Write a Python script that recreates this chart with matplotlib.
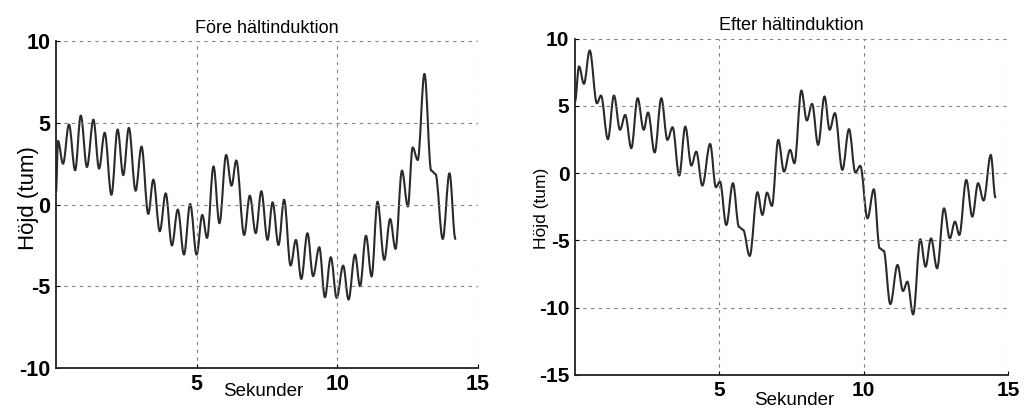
import numpy as np
import matplotlib.pyplot as plt
from matplotlib.path import Path
from matplotlib.patches import PathPatch

plt.rcParams['font.family'] = ['Liberation Sans', 'DejaVu Sans']
plt.rcParams['axes.unicode_minus'] = False

# Före hältinduktion: turning points (seconds, inches)
fore_t = [0.0, 0.07, 0.25, 0.46, 0.68, 0.88, 1.10, 1.33, 1.53, 1.73, 1.97, 2.19, 2.39,
          2.59, 2.83, 3.04, 3.28, 3.46, 3.69, 3.90, 4.12, 4.33, 4.55, 4.77, 5.00, 5.20,
          5.37, 5.60, 5.81, 6.05, 6.24, 6.41, 6.69, 6.89, 7.10, 7.30, 7.52, 7.70, 7.91,
          8.11, 8.34, 8.53, 8.72, 8.94, 9.14, 9.36, 9.56, 9.77, 9.98, 10.21, 10.40, 10.63,
          10.81, 11.02, 11.22, 11.43, 11.67, 11.88, 12.07, 12.30, 12.51, 12.68, 12.86,
          13.10, 13.34, 13.49, 13.75, 13.99, 14.20]
fore_h = [0.8, 3.9, 2.5, 4.9, 2.1, 5.45, 2.3, 5.2, 2.2, 4.4, 0.6, 4.6, 1.8,
          4.7, 0.85, 3.55, -0.57, 1.53, -1.63, 0.69, -2.5, -0.3, -3.06, 0.04, -3.06, -0.63,
          -2.04, 2.34, -1.14, 3.04, 1.16, 2.7, -1.86, 0.55, -1.75, 0.82, -2.16, 0.14, -2.47,
          0.3, -3.73, -2.16, -4.55, -1.75, -4.38, -2.61, -5.67, -3.22, -5.71, -3.73, -5.81, -3.06,
          -5.0, -1.9, -4.4, 0.18, -3.38, -0.88, -2.71, 2.08, -0.12, 3.5, 2.73,
          8.0, 2.08, 1.88, -2.1, 1.92, -2.1]

# Efter hältinduktion
efter_t = [0.0, 0.14, 0.31, 0.51, 0.76, 0.90, 1.14, 1.35, 1.56, 1.74, 1.95, 2.17, 2.38,
           2.53, 2.76, 2.99, 3.20, 3.38, 3.61, 3.82, 4.03, 4.20, 4.41, 4.68, 4.88, 5.02,
           5.24, 5.47, 5.68, 5.82, 6.05, 6.32, 6.49, 6.65, 6.82, 7.04, 7.24, 7.45, 7.60,
           7.84, 8.03, 8.21, 8.42, 8.64, 8.82, 9.00, 9.26, 9.49, 9.71, 9.88, 10.13, 10.35,
           10.55, 10.69, 10.92, 11.17, 11.36, 11.51, 11.71, 11.96, 12.14, 12.33, 12.54, 12.78,
           12.98, 13.16, 13.31, 13.55, 13.76, 13.96, 14.15, 14.40, 14.56]
efter_h = [5.33, 7.94, 6.65, 9.13, 5.2, 5.78, 2.53, 5.78, 3.23, 4.34, 1.86, 5.58, 3.23,
           4.52, 1.54, 5.58, 2.48, 3.42, -0.17, 3.47, 0.57, 1.61, -0.92, 2.18, -1.04, -0.62,
           -3.85, -0.74, -4.0, -4.2, -6.15, -1.41, -3.1, -1.44, -2.43, 2.48, 0.12, 1.74, 0.74,
           6.15, 3.92, 5.16, 2.11, 5.71, 3.23, 4.47, 0.25, 3.28, 0.05, 0.55, -3.35, -1.19,
           -5.58, -5.76, -9.73, -6.82, -8.76, -8.06, -10.5, -4.91, -6.95, -4.84, -7.07, -2.61,
           -4.84, -3.6, -4.59, -0.5, -3.23, -0.74, -2.03, 1.36, -1.79]

x_ticks = [5, 10, 15]
fore_yticks = [-10, -5, 0, 5, 10]
efter_yticks = [-15, -10, -5, 0, 5, 10]


def smooth_trace(ax, t, h):
    # cubic bezier between turning points, flat tangent at each one
    verts = [(t[0], h[0])]
    codes = [Path.MOVETO]
    for i in range(1, len(t)):
        dt = t[i] - t[i - 1]
        verts += [(t[i - 1] + 0.36 * dt, h[i - 1]), (t[i] - 0.36 * dt, h[i]), (t[i], h[i])]
        codes += [Path.CURVE4] * 3
    patch = PathPatch(Path(verts, codes), facecolor='none', edgecolor='#2a2a2a',
                      linewidth=1.5, capstyle='round', joinstyle='round')
    ax.add_patch(patch)


fig = plt.figure(figsize=(10.24, 4.08), dpi=100)
ax1 = fig.add_axes([0.0547, 0.098, 0.412, 0.801])
ax2 = fig.add_axes([0.5615, 0.081, 0.423, 0.824])


def style_axes(ax, yticks, title, ylabel_size, tick_size, xlab_pos, ylab_pos):
    ax.set_xlim(0, 15)
    ax.set_ylim(yticks[0], yticks[-1])
    ax.set_xticks(x_ticks)
    ax.set_yticks(yticks)
    ax.grid(True, color='0.5', linestyle=(0, (3, 4)), linewidth=0.8)
    for s in ['top', 'right']:
        ax.spines[s].set_visible(False)
    for s in ['left', 'bottom']:
        ax.spines[s].set_linewidth(1.3)
        ax.spines[s].set_color('#222222')
    ax.tick_params(direction='in', length=3, labelsize=tick_size, pad=4)
    for lab in ax.get_xticklabels() + ax.get_yticklabels():
        lab.set_fontweight('bold')
    ax.set_title(title, fontsize=13, pad=6)
    ax.set_ylabel('Höjd (tum)', fontsize=ylabel_size)
    ax.set_xlabel('Sekunder', fontsize=13.5)
    ax.xaxis.set_label_coords(*xlab_pos)
    ax.yaxis.set_label_coords(*ylab_pos)


smooth_trace(ax1, fore_t, fore_h)
style_axes(ax1, fore_yticks, 'Före hältinduktion', 16, 15.5, (0.49, -0.045), (-0.040, 0.52))

smooth_trace(ax2, efter_t, efter_h)
style_axes(ax2, efter_yticks, 'Efter hältinduktion', 12.5, 15, (0.506, -0.052), (-0.060, 0.494))

plt.savefig('out.png', dpi=100)
